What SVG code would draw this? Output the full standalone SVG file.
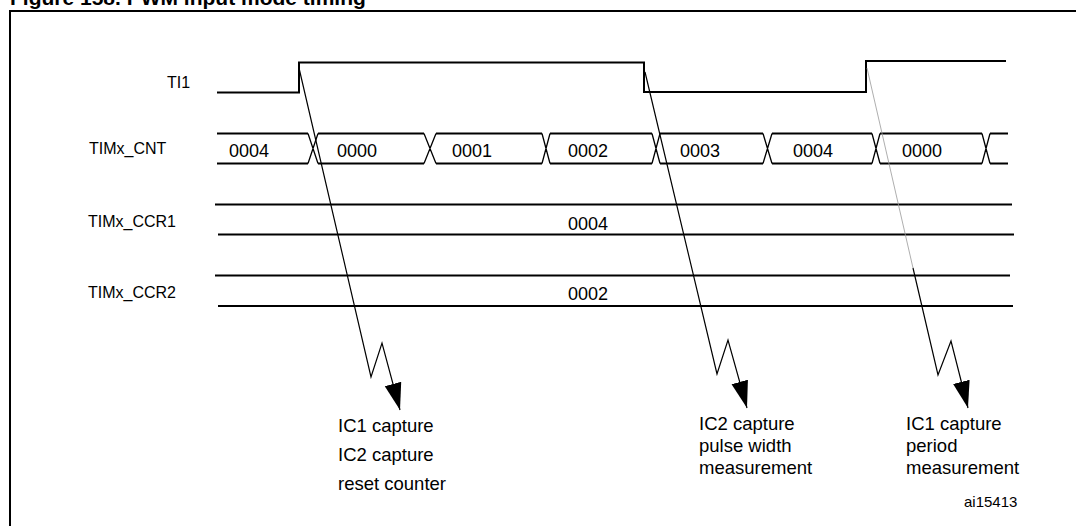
<svg xmlns="http://www.w3.org/2000/svg" width="1076" height="526" viewBox="0 0 1076 526">
<style>
.t{font-family:"Liberation Sans",Arial,sans-serif;fill:#000}
.lbl{font-size:16px}
.val{font-size:18px}
.cap{font-size:18.5px}
.sig{fill:none;stroke:#000;stroke-width:2}
.arr{fill:none;stroke:#000;stroke-width:1.2}
</style>
<defs>
<marker id="ah" markerUnits="userSpaceOnUse" markerWidth="30" markerHeight="20" viewBox="0 -10 30 20" refX="27" refY="0" orient="auto">
<path d="M0,-8.5 L27,0 L0,8.5 Z" fill="#000"/>
</marker>
</defs>
<rect width="1076" height="526" fill="#fff"/>
<text class="t" x="10" y="4.5" font-size="21" font-weight="bold">Figure 158. PWM input mode timing</text>
<rect x="10" y="11" width="1080" height="530" fill="none" stroke="#000" stroke-width="2"/>

<g id="ti1">
<text class="t lbl" x="167" y="87.5">TI1</text>
<polyline class="sig" points="217,92.5 299,92.5 299,62.5 644,62.5 644,92 866,92 866,61 1006,61"/>
</g>

<g id="cnt">
<text class="t lbl" x="89" y="153.5">TIMx_CNT</text>
<path class="sig" d="M217,133.5H308M217,163.5H308M318,133.5H424M318,163.5H424M436,133.5H542M436,163.5H542M550,133.5H652M550,163.5H652M660,133.5H763M660,163.5H763M772,133.5H872M772,163.5H872M880,133.5H982M880,163.5H982M990,133.5H1008M990,163.5H1008"/>
<path fill="none" stroke="#000" stroke-width="1.3" d="M308,133.5L318,163.5M308,163.5L318,133.5M424,133.5L436,163.5M424,163.5L436,133.5M542,133.5L550,163.5M542,163.5L550,133.5M652,133.5L660,163.5M652,163.5L660,133.5M763,133.5L772,163.5M763,163.5L772,133.5M872,133.5L880,163.5M872,163.5L880,133.5M982,133.5L990,163.5M982,163.5L990,133.5"/>
<text class="t val" x="229" y="157">0004</text>
<text class="t val" x="337" y="157">0000</text>
<text class="t val" x="452" y="157">0001</text>
<text class="t val" x="568" y="157">0002</text>
<text class="t val" x="680" y="157">0003</text>
<text class="t val" x="793" y="157">0004</text>
<text class="t val" x="902" y="157">0000</text>
</g>

<g id="ccr1">
<text class="t lbl" x="88" y="227">TIMx_CCR1</text>
<path class="sig" d="M215,204.5H1012M218,234.5H1014"/>
<text class="t val" x="568" y="229.5">0004</text>
</g>

<g id="ccr2">
<text class="t lbl" x="88" y="298">TIMx_CCR2</text>
<path class="sig" d="M215,275.5H1010M218,306H1013"/>
<text class="t val" x="568" y="300">0002</text>
</g>

<g id="connectors">
<path class="arr" d="M299,68 L371,377 L382,343 L400,410" marker-end="url(#ah)"/>
<path class="arr" d="M645,72 L717,374 L728,340 L747,408" marker-end="url(#ah)"/>
<path fill="none" stroke="#999" stroke-width="0.8" d="M867,68 L913,268"/>
<path class="arr" d="M913,268 L938,375 L951,341 L968,408" marker-end="url(#ah)"/>
</g>

<g id="label1">
<text class="t cap" x="338" y="432">IC1 capture</text>
<text class="t cap" x="338" y="461">IC2 capture</text>
<text class="t cap" x="338" y="490">reset counter</text>
</g>
<g id="label2">
<text class="t cap" x="699" y="430">IC2 capture</text>
<text class="t cap" x="699" y="452">pulse width</text>
<text class="t cap" x="699" y="473.5">measurement</text>
</g>
<g id="label3">
<text class="t cap" x="906" y="430">IC1 capture</text>
<text class="t cap" x="906" y="452">period</text>
<text class="t cap" x="906" y="473.5">measurement</text>
</g>
<text class="t" x="964" y="506.5" font-size="15">ai15413</text>
</svg>
